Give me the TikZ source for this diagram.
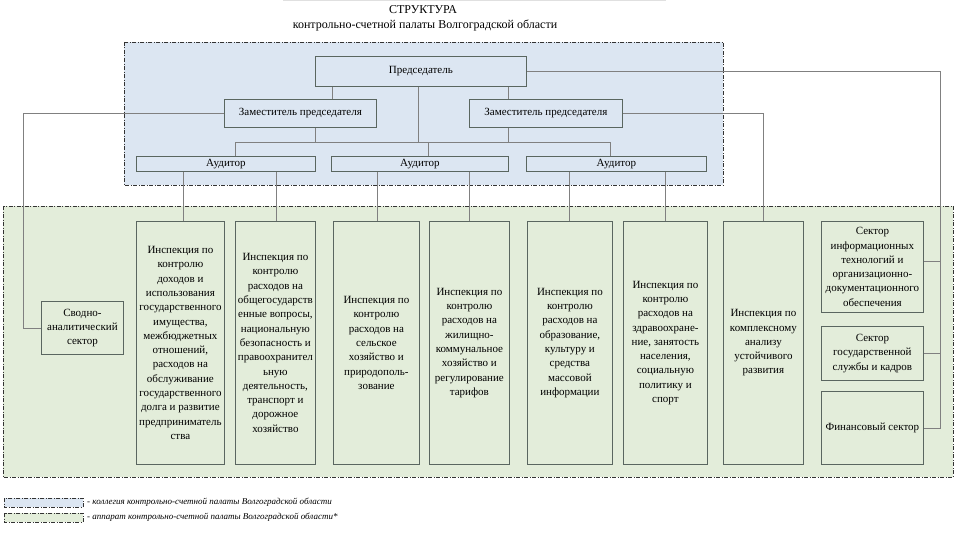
\documentclass[tikz,border=0pt]{standalone}
\usepackage{fontspec}
\setmainfont{Liberation Serif}
\definecolor{bluefill}{HTML}{DCE6F2}
\definecolor{greenfill}{HTML}{E3EDDA}
\definecolor{boxline}{HTML}{5A6660}
\definecolor{connline}{HTML}{808080}
\definecolor{frameline}{HTML}{333333}
\begin{document}
\begin{tikzpicture}[x=1pt,y=-1pt,
  box/.style={draw=boxline, line width=0.8pt, inner sep=1pt, align=center,
    anchor=north west, font=\fontsize{11}{14.3}\selectfont},
  bbox/.style={box, fill=bluefill},
  gbox/.style={box, fill=greenfill},
  conn/.style={draw=connline, line width=0.8pt},
  frame/.style={draw=frameline, line width=0.8pt, dash pattern=on 4pt off 1.5pt on 1pt off 1.5pt},
  ttl/.style={font=\fontsize{12}{14}\selectfont, inner sep=0pt},
  leg/.style={font=\itshape\fontsize{9}{10}\selectfont, anchor=west, inner sep=0pt}]
\useasboundingbox (0,0) rectangle (960,535);
\fill[white] (0,0) rectangle (960,535);
\draw[black!12, line width=0.8pt] (283,0.5) -- (666,0.5);

% titles
\node[ttl] (t1) at (423,10) {СТРУКТУРА};
\node[ttl] (t2) at (425,25.5) {контрольно-счетной палаты Волгоградской области};

% big regions
\path[fill=bluefill, frame] (124,42) rectangle (723,185);
\path[fill=greenfill, frame] (3,206) rectangle (953,477);

% coordinates for connector x positions
\coordinate (xz1t) at (332,0);
\coordinate (xz2) at (508,0);
\coordinate (xpm) at (418,0);
\coordinate (xz1b) at (315,0);
\coordinate (busL) at (235,142);
\coordinate (busR) at (610,142);
\coordinate (xa2) at (428,0);
\coordinate (xi1) at (183,0);
\coordinate (xi2) at (276,0);
\coordinate (xi3) at (377,0);
\coordinate (xi4) at (469,0);
\coordinate (xi5) at (569,0);
\coordinate (xi6) at (665,0);
\coordinate (xr) at (940,0);
\coordinate (xl) at (23,0);
\coordinate (xr2) at (763,0);

% nodes
\node[bbox, minimum width=211pt, minimum height=30pt] (pred) at (315,56) {Председатель};
\node[bbox, minimum width=152pt, minimum height=28pt] (z1) at (224,99) {Заместитель председателя};
\node[bbox, minimum width=153pt, minimum height=28pt] (z2) at (469,99) {Заместитель председателя};
\node[bbox, minimum width=179pt, minimum height=15pt] (a1) at (136,156) {Аудитор};
\node[bbox, minimum width=177pt, minimum height=15pt] (a2) at (331,156) {Аудитор};
\node[bbox, minimum width=180pt, minimum height=15pt] (a3) at (526,156) {Аудитор};

\node[gbox, minimum width=82pt, minimum height=53pt] (svod) at (41,301) {Сводно-\\аналитический\\сектор};
\node[gbox, minimum width=88pt, minimum height=243pt] (i1) at (136,221) {Инспекция по\\контролю\\доходов и\\использования\\государственного\\имущества,\\межбюджетных\\отношений,\\расходов на\\обслуживание\\государственного\\долга и развитие\\предприниматель\\ства};
\node[gbox, minimum width=80pt, minimum height=243pt] (i2) at (235,221) {Инспекция по\\контролю\\расходов на\\общегосударств\\енные вопросы,\\национальную\\безопасность и\\правоохранител\\ьную\\деятельность,\\транспорт и\\дорожное\\хозяйство};
\node[gbox, minimum width=86pt, minimum height=243pt] (i3) at (333,221) {Инспекция по\\контролю\\расходов на\\сельское\\хозяйство и\\природополь-\\зование};
\node[gbox, minimum width=80pt, minimum height=243pt] (i4) at (429,221) {Инспекция по\\контролю\\расходов на\\жилищно-\\коммунальное\\хозяйство и\\регулирование\\тарифов};
\node[gbox, minimum width=85pt, minimum height=243pt] (i5) at (527,221) {Инспекция по\\контролю\\расходов на\\образование,\\культуру и\\средства\\массовой\\информации};
\node[gbox, minimum width=84pt, minimum height=243pt] (i6) at (623,221) {Инспекция по\\контролю\\расходов на\\здравоохране-\\ние, занятость\\населения,\\социальную\\политику и\\спорт};
\node[gbox, minimum width=80pt, minimum height=243pt] (i7) at (723,221) {Инспекция по\\комплексному\\анализу\\устойчивого\\развития};
\node[gbox, minimum width=102pt, minimum height=91pt] (it) at (821,221) {Сектор\\информационных\\технологий и\\организационно-\\документационного\\обеспечения};
\node[gbox, minimum width=102pt, minimum height=54pt] (gos) at (821,326) {Сектор\\государственной\\службы и кадров};
\node[gbox, minimum width=102pt, minimum height=73pt] (fin) at (821,391) {Финансовый сектор};

% connectors
\draw[conn] (pred.south -| xz1t) -- (z1.north -| xz1t);
\draw[conn] (pred.south -| xz2) -- (z2.north -| xz2);
\draw[conn] (pred.south -| xpm) -- (busL -| xpm);
\draw[conn] (z1.south -| xz1b) -- (busL -| xz1b);
\draw[conn] (z2.south -| xz2) -- (busL -| xz2);
\draw[conn] (a1.north -| busL) -- (busL) -- (busR) -- (a3.north -| busR);
\draw[conn] (busL -| xa2) -- (a2.north -| xa2);
\draw[conn] (a1.south -| xi1) -- (i1.north -| xi1);
\draw[conn] (a1.south -| xi2) -- (i2.north -| xi2);
\draw[conn] (a2.south -| xi3) -- (i3.north -| xi3);
\draw[conn] (a2.south -| xi4) -- (i4.north -| xi4);
\draw[conn] (a3.south -| xi5) -- (i5.north -| xi5);
\draw[conn] (a3.south -| xi6) -- (i6.north -| xi6);
\draw[conn] (pred.east) -- (pred.east -| xr) -- (fin.east -| xr) -- (fin.east);
\draw[conn] ([yshift=6pt]it.east) -- ([yshift=6pt]it.east -| xr);
\draw[conn] (gos.east) -- (gos.east -| xr);
\draw[conn] (z1.west) -- (z1.west -| xl) -- (svod.west -| xl) -- (svod.west);
\draw[conn] (z2.east) -- (z2.east -| xr2) -- (i7.north -| xr2);

% legend
\path[fill=bluefill, frame] (4,498) rectangle (83,507);
\path[fill=greenfill, frame] (4,513) rectangle (83,522);
\node[leg] (l1) at (87,502.5) {- коллегия контрольно-счетной палаты Волгоградской области};
\node[leg] (l2) at (87,517.5) {- аппарат контрольно-счетной палаты Волгоградской области*};
\end{tikzpicture}
\end{document}
